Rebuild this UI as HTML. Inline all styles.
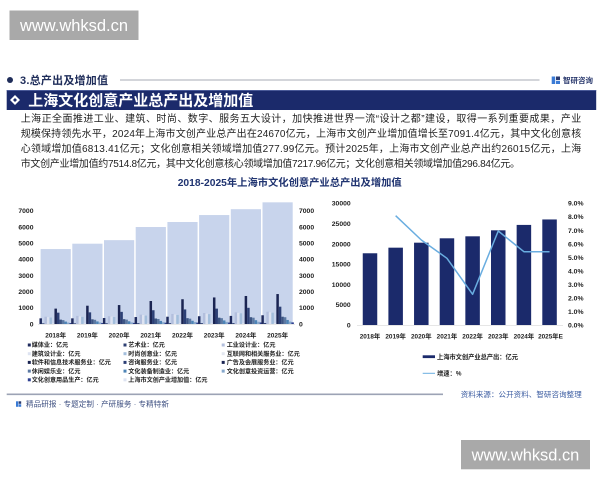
<!DOCTYPE html>
<html><head><meta charset="utf-8"><style>
html,body{margin:0;padding:0;background:#fff;}
body{width:600px;height:480px;overflow:hidden;position:relative;}
svg{position:absolute;left:0;top:0;}
text{font-family:"Liberation Sans","Noto Sans CJK SC",sans-serif;}
.b{font-weight:bold;}
.ax{font-size:6.8px;font-weight:bold;fill:#222;}
.lg{font-size:6.1px;font-weight:bold;fill:#222;}
.p{font-size:10px;fill:#222;}
.c1{fill:#1f2b5e}.c2{fill:#2d3f72}.c3{fill:#b3bfdd}.c4{fill:#dde3f1}.c5{fill:#a3bedc}.c6{fill:#e3e7f0}
.c7{fill:#1a2452}.c8{fill:#2c3f75}.c9{fill:#3d5583}.c10{fill:#5c79a3}.c11{fill:#4d84b6}.c12{fill:#86a8cc}.c13{fill:#2f4192}
</style></head><body>
<svg width="600" height="480" viewBox="0 0 600 480" xmlns="http://www.w3.org/2000/svg">
<!-- top watermark -->
<rect x="9.5" y="10.5" width="129" height="29.5" fill="#a9a9a9"/>
<text x="20" y="31" font-size="16.3" fill="#fff" textLength="108" lengthAdjust="spacingAndGlyphs">www.whksd.cn</text>

<!-- section header -->
<circle cx="10" cy="80" r="3" fill="#1f2d5a"/>
<text x="20" y="83.9" font-size="11" class="b" fill="#1f2d5a" textLength="88">3.总产出及增加值</text>
<line x1="120" y1="80" x2="539.5" y2="80" stroke="#a7abb4" stroke-width="1"/>
<rect x="551.7" y="76.5" width="3.5" height="7.5" fill="#3a7bd5"/>
<rect x="556" y="76.5" width="4" height="3.5" fill="#2b3a6e"/>
<rect x="556" y="80.8" width="4" height="3.2" fill="#3a7bd5"/>
<text x="563" y="82.8" font-size="7.5" class="b" fill="#2b3a6e" textLength="30">智研咨询</text>

<!-- band -->
<rect x="6.7" y="90" width="589.5" height="20" fill="#1b2a6b"/>
<line x1="6.7" y1="90.4" x2="596.2" y2="90.4" stroke="#5a6aa8" stroke-width="0.8"/>
<polygon points="15,95 20,100 15,105 10,100" fill="#fff"/>
<polygon points="15,98 17,100 15,102 13,100" fill="#1b2a6b"/>
<text x="28.3" y="105.4" font-size="15" class="b" fill="#fff" textLength="225">上海文化创意产业总产出及增加值</text>

<!-- paragraph -->
<text class="p" x="20.7" y="121.8" textLength="560.5" lengthAdjust="spacing">上海正全面推进工业、建筑、时尚、数字、服务五大设计，加快推进世界一流“设计之都”建设，取得一系列重要成果，产业</text>
<text class="p" x="20.7" y="136.8" textLength="560.5" lengthAdjust="spacing">规模保持领先水平，2024年上海市文创产业总产出在24670亿元，上海市文创产业增加值增长至7091.4亿元，其中文化创意核</text>
<text class="p" x="20.7" y="151.8" textLength="560.5" lengthAdjust="spacing">心领域增加值6813.41亿元；文化创意相关领域增加值277.99亿元。预计2025年，上海市文创产业总产出约26015亿元，上海</text>
<text class="p" x="20.7" y="166.8" textLength="499.3" lengthAdjust="spacing">市文创产业增加值约7514.8亿元，其中文化创意核心领域增加值7217.96亿元；文化创意相关领域增加值296.84亿元。</text>

<!-- title -->
<text x="177.7" y="185.9" font-size="10.3" class="b" fill="#1f3370" textLength="224">2018-2025年上海市文化创意产业总产出及增加值</text>

<!-- LEFT CHART -->
<g class="ax" text-anchor="end">
<text x="33.5" y="326.4">0</text>
<text x="33.5" y="310.2">1000</text>
<text x="33.5" y="294">2000</text>
<text x="33.5" y="277.8">3000</text>
<text x="33.5" y="261.6">4000</text>
<text x="33.5" y="245.5">5000</text>
<text x="33.5" y="229.3">6000</text>
<text x="33.5" y="213.1">7000</text>
</g>
<g class="ax">
<text x="299" y="326.4">0</text>
<text x="299" y="310.2">1000</text>
<text x="299" y="294">2000</text>
<text x="299" y="277.8">3000</text>
<text x="299" y="261.6">4000</text>
<text x="299" y="245.5">5000</text>
<text x="299" y="229.3">6000</text>
<text x="299" y="213.1">7000</text>
</g>
<g transform="translate(0,324) scale(1,-0.01619)" fill="#c8d4ec">
<rect x="40.6" y="0" width="30.2" height="4630"/>
<rect x="72.3" y="0" width="30.2" height="4960"/>
<rect x="104" y="0" width="30.2" height="5180"/>
<rect x="135.7" y="0" width="30.2" height="5990"/>
<rect x="167.4" y="0" width="30.2" height="6300"/>
<rect x="199.1" y="0" width="30.2" height="6730"/>
<rect x="230.8" y="0" width="30.2" height="7091"/>
<rect x="262.5" y="0" width="30.2" height="7515"/>
</g>
<!-- small bars groups -->
<g transform="translate(39.45,324) scale(1,-0.01619)">
<rect class="c1" x="0" width="2.5" height="350"/><rect class="c2" x="2.5" width="2.5" height="40"/><rect class="c3" x="5" width="2.5" height="450"/><rect class="c4" x="7.5" width="2.5" height="420"/><rect class="c5" x="10" width="2.5" height="400"/><rect class="c6" x="12.5" width="2.5" height="30"/><rect class="c7" x="15" width="2.5" height="950"/><rect class="c8" x="17.5" width="2.5" height="700"/><rect class="c9" x="20" width="2.5" height="270"/><rect class="c10" x="22.5" width="2.5" height="240"/><rect class="c11" x="25" width="2.5" height="150"/><rect class="c12" x="27.5" width="2.5" height="90"/><rect class="c13" x="30" width="2.5" height="60"/>
</g>
<g transform="translate(71.15,324) scale(1,-0.01619)">
<rect class="c1" x="0" width="2.5" height="350"/><rect class="c2" x="2.5" width="2.5" height="40"/><rect class="c3" x="5" width="2.5" height="500"/><rect class="c4" x="7.5" width="2.5" height="470"/><rect class="c5" x="10" width="2.5" height="440"/><rect class="c6" x="12.5" width="2.5" height="30"/><rect class="c7" x="15" width="2.5" height="1130"/><rect class="c8" x="17.5" width="2.5" height="720"/><rect class="c9" x="20" width="2.5" height="290"/><rect class="c10" x="22.5" width="2.5" height="260"/><rect class="c11" x="25" width="2.5" height="160"/><rect class="c12" x="27.5" width="2.5" height="95"/><rect class="c13" x="30" width="2.5" height="65"/>
</g>
<g transform="translate(102.85,324) scale(1,-0.01619)">
<rect class="c1" x="0" width="2.5" height="370"/><rect class="c2" x="2.5" width="2.5" height="45"/><rect class="c3" x="5" width="2.5" height="480"/><rect class="c4" x="7.5" width="2.5" height="460"/><rect class="c5" x="10" width="2.5" height="430"/><rect class="c6" x="12.5" width="2.5" height="30"/><rect class="c7" x="15" width="2.5" height="1170"/><rect class="c8" x="17.5" width="2.5" height="750"/><rect class="c9" x="20" width="2.5" height="300"/><rect class="c10" x="22.5" width="2.5" height="270"/><rect class="c11" x="25" width="2.5" height="170"/><rect class="c12" x="27.5" width="2.5" height="100"/><rect class="c13" x="30" width="2.5" height="70"/>
</g>
<g transform="translate(134.55,324) scale(1,-0.01619)">
<rect class="c1" x="0" width="2.5" height="430"/><rect class="c2" x="2.5" width="2.5" height="50"/><rect class="c3" x="5" width="2.5" height="580"/><rect class="c4" x="7.5" width="2.5" height="550"/><rect class="c5" x="10" width="2.5" height="520"/><rect class="c6" x="12.5" width="2.5" height="35"/><rect class="c7" x="15" width="2.5" height="1420"/><rect class="c8" x="17.5" width="2.5" height="850"/><rect class="c9" x="20" width="2.5" height="340"/><rect class="c10" x="22.5" width="2.5" height="310"/><rect class="c11" x="25" width="2.5" height="190"/><rect class="c12" x="27.5" width="2.5" height="110"/><rect class="c13" x="30" width="2.5" height="80"/>
</g>
<g transform="translate(166.25,324) scale(1,-0.01619)">
<rect class="c1" x="0" width="2.5" height="450"/><rect class="c2" x="2.5" width="2.5" height="50"/><rect class="c3" x="5" width="2.5" height="620"/><rect class="c4" x="7.5" width="2.5" height="590"/><rect class="c5" x="10" width="2.5" height="560"/><rect class="c6" x="12.5" width="2.5" height="35"/><rect class="c7" x="15" width="2.5" height="1530"/><rect class="c8" x="17.5" width="2.5" height="900"/><rect class="c9" x="20" width="2.5" height="360"/><rect class="c10" x="22.5" width="2.5" height="330"/><rect class="c11" x="25" width="2.5" height="200"/><rect class="c12" x="27.5" width="2.5" height="120"/><rect class="c13" x="30" width="2.5" height="85"/>
</g>
<g transform="translate(197.95,324) scale(1,-0.01619)">
<rect class="c1" x="0" width="2.5" height="480"/><rect class="c2" x="2.5" width="2.5" height="55"/><rect class="c3" x="5" width="2.5" height="680"/><rect class="c4" x="7.5" width="2.5" height="640"/><rect class="c5" x="10" width="2.5" height="610"/><rect class="c6" x="12.5" width="2.5" height="40"/><rect class="c7" x="15" width="2.5" height="1640"/><rect class="c8" x="17.5" width="2.5" height="950"/><rect class="c9" x="20" width="2.5" height="390"/><rect class="c10" x="22.5" width="2.5" height="360"/><rect class="c11" x="25" width="2.5" height="220"/><rect class="c12" x="27.5" width="2.5" height="130"/><rect class="c13" x="30" width="2.5" height="90"/>
</g>
<g transform="translate(229.65,324) scale(1,-0.01619)">
<rect class="c1" x="0" width="2.5" height="500"/><rect class="c2" x="2.5" width="2.5" height="55"/><rect class="c3" x="5" width="2.5" height="720"/><rect class="c4" x="7.5" width="2.5" height="690"/><rect class="c5" x="10" width="2.5" height="660"/><rect class="c6" x="12.5" width="2.5" height="40"/><rect class="c7" x="15" width="2.5" height="1730"/><rect class="c8" x="17.5" width="2.5" height="1000"/><rect class="c9" x="20" width="2.5" height="420"/><rect class="c10" x="22.5" width="2.5" height="390"/><rect class="c11" x="25" width="2.5" height="235"/><rect class="c12" x="27.5" width="2.5" height="140"/><rect class="c13" x="30" width="2.5" height="95"/>
</g>
<g transform="translate(261.35,324) scale(1,-0.01619)">
<rect class="c1" x="0" width="2.5" height="540"/><rect class="c2" x="2.5" width="2.5" height="60"/><rect class="c3" x="5" width="2.5" height="760"/><rect class="c4" x="7.5" width="2.5" height="720"/><rect class="c5" x="10" width="2.5" height="700"/><rect class="c6" x="12.5" width="2.5" height="45"/><rect class="c7" x="15" width="2.5" height="1850"/><rect class="c8" x="17.5" width="2.5" height="1070"/><rect class="c9" x="20" width="2.5" height="450"/><rect class="c10" x="22.5" width="2.5" height="420"/><rect class="c11" x="25" width="2.5" height="250"/><rect class="c12" x="27.5" width="2.5" height="150"/><rect class="c13" x="30" width="2.5" height="100"/>
</g>
<line x1="38" y1="324.3" x2="295" y2="324.3" stroke="#d9d9d9" stroke-width="0.6"/>
<g class="ax" text-anchor="middle" style="font-size:6.5px">
<text x="55.7" y="337.5">2018年</text>
<text x="87.4" y="337.5">2019年</text>
<text x="119.1" y="337.5">2020年</text>
<text x="150.8" y="337.5">2021年</text>
<text x="182.5" y="337.5">2022年</text>
<text x="214.2" y="337.5">2023年</text>
<text x="245.9" y="337.5">2024年</text>
<text x="277.6" y="337.5">2025年</text>
</g>
<!-- left legend -->
<g class="lg">
<rect class="c1" x="27.8" y="343.5" width="3" height="3"/><text x="31.7" y="347.2">媒体业：亿元</text>
<rect class="c2" x="123.5" y="343.5" width="3" height="3"/><text x="128.3" y="347.2">艺术业：亿元</text>
<rect class="c3" x="221.7" y="343.5" width="3" height="3"/><text x="226.7" y="347.2">工业设计业：亿元</text>
<rect class="c4" x="27.8" y="352.2" width="3" height="3"/><text x="31.7" y="355.9">建筑设计业：亿元</text>
<rect class="c5" x="123.5" y="352.2" width="3" height="3"/><text x="128.3" y="355.9">时尚创意业：亿元</text>
<rect class="c6" x="221.7" y="352.2" width="3" height="3"/><text x="226.7" y="355.9">互联网和相关服务业：亿元</text>
<rect class="c7" x="27.8" y="360.9" width="3" height="3"/><text x="31.7" y="364.6">软件和信息技术服务业：亿元</text>
<rect class="c8" x="123.5" y="360.9" width="3" height="3"/><text x="128.3" y="364.6">咨询服务业：亿元</text>
<rect class="c7" x="221.7" y="360.9" width="3" height="3"/><text x="226.7" y="364.6">广告及会展服务业：亿元</text>
<rect class="c10" x="27.8" y="369.6" width="3" height="3"/><text x="31.7" y="373.3">休闲娱乐业：亿元</text>
<rect class="c11" x="123.5" y="369.6" width="3" height="3"/><text x="128.3" y="373.3">文化装备制造业：亿元</text>
<rect class="c12" x="221.7" y="369.6" width="3" height="3"/><text x="226.7" y="373.3">文化创意投资运营：亿元</text>
<rect class="c13" x="27.8" y="378.3" width="3" height="3"/><text x="31.7" y="382">文化创意用品生产：亿元</text>
<rect fill="#dde3f1" x="123.5" y="378.3" width="3" height="3"/><text x="128.3" y="382">上海市文创产业增加值：亿元</text>
</g>

<!-- RIGHT CHART -->
<g class="ax" text-anchor="end">
<text x="350.7" y="327.4">0</text>
<text x="350.7" y="307.1">5000</text>
<text x="350.7" y="286.8">10000</text>
<text x="350.7" y="266.5">15000</text>
<text x="350.7" y="246.3">20000</text>
<text x="350.7" y="226">25000</text>
<text x="350.7" y="205.7">30000</text>
</g>
<g class="ax">
<text x="568" y="327.4">0.0%</text>
<text x="568" y="313.9">1.0%</text>
<text x="568" y="300.4">2.0%</text>
<text x="568" y="286.8">3.0%</text>
<text x="568" y="273.3">4.0%</text>
<text x="568" y="259.8">5.0%</text>
<text x="568" y="246.3">6.0%</text>
<text x="568" y="232.8">7.0%</text>
<text x="568" y="219.2">8.0%</text>
<text x="568" y="205.7">9.0%</text>
</g>
<g transform="translate(0,325) scale(1,-0.004057)" fill="#1b2a6b">
<rect x="362.75" y="0" width="14.5" height="17680"/>
<rect x="388.4" y="0" width="14.5" height="19060"/>
<rect x="414.05" y="0" width="14.5" height="20290"/>
<rect x="439.7" y="0" width="14.5" height="21370"/>
<rect x="465.35" y="0" width="14.5" height="21860"/>
<rect x="491" y="0" width="14.5" height="23340"/>
<rect x="516.65" y="0" width="14.5" height="24670"/>
<rect x="542.3" y="0" width="14.5" height="26015"/>
</g>
<line x1="357" y1="325.3" x2="563" y2="325.3" stroke="#d6d6d6" stroke-width="0.7"/>
<polyline points="395.65,215.7 421.3,240 446.95,258.3 472.6,294.3 498.25,231 523.9,251.7 549.55,251.7" fill="none" stroke="#69ade0" stroke-width="1.5" stroke-linejoin="round"/>
<g class="ax" text-anchor="middle" style="font-size:6.4px">
<text x="370" y="338.4">2018年</text>
<text x="395.65" y="338.4">2019年</text>
<text x="421.3" y="338.4">2020年</text>
<text x="446.95" y="338.4">2021年</text>
<text x="472.6" y="338.4">2022年</text>
<text x="498.25" y="338.4">2023年</text>
<text x="523.9" y="338.4">2024年</text>
<text x="550.5" y="338.4">2025年E</text>
</g>
<rect x="422.7" y="355.3" width="12.3" height="2.8" fill="#1b2a6b"/>
<text class="lg" x="437" y="358.9" style="font-size:6.3px" textLength="81">上海市文创产业总产出：亿元</text>
<line x1="422.7" y1="373.3" x2="435" y2="373.3" stroke="#69ade0" stroke-width="1"/>
<text class="lg" x="437" y="375.6" style="font-size:6.3px">增速：%</text>

<!-- footer -->
<line x1="6.7" y1="394.3" x2="443" y2="394.3" stroke="#9ca3b5" stroke-width="1.6"/>
<text x="460.7" y="397" font-size="7.5" fill="#3a5ba0" textLength="121">资料来源：公开资料、智研咨询整理</text>
<rect x="16" y="401.3" width="2.3" height="5.5" fill="#3a7bd5"/>
<rect x="18.7" y="401.3" width="2.5" height="2.5" fill="#2b3a6e"/>
<rect x="18.7" y="404.3" width="2.5" height="2.5" fill="#3a7bd5"/>
<text x="26" y="406.7" font-size="7.6" fill="#3d4f80" textLength="143">精品研报 · 专题定制 · 产研服务 · 专精特新</text>

<!-- bottom watermark -->
<rect x="461" y="440" width="129" height="29.3" fill="#a9a9a9"/>
<text x="471.7" y="460.4" font-size="16.3" fill="#fff" textLength="107.6" lengthAdjust="spacingAndGlyphs">www.whksd.cn</text>
</svg>
</body></html>
